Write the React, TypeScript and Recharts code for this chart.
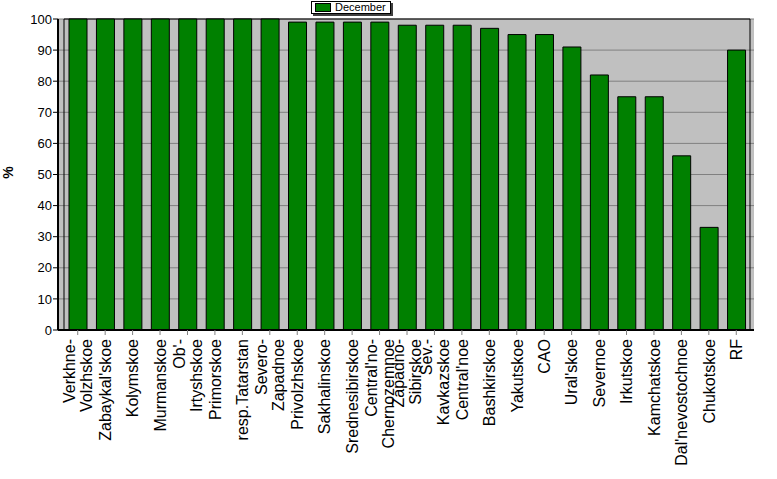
import React from 'react';
import {
  BarChart,
  Bar,
  XAxis,
  YAxis,
  CartesianGrid,
  Legend,
  ReferenceArea,
} from 'recharts';

// "\n" marks where the original label wraps onto a second line
const regions = [
  'Verkhne-\nVolzhskoe',
  "Zabaykal'skoe",
  'Kolymskoe',
  'Murmanskoe',
  "Ob'-\nIrtyshskoe",
  'Primorskoe',
  'resp.Tatarstan',
  'Severo-\nZapadnoe',
  'Privolzhskoe',
  'Sakhalinskoe',
  'Srednesibirskoe',
  "Central'no-\nChernozemnoe",
  'Zapadno-\nSibirskoe',
  'Sev.-\nKavkazskoe',
  "Central'noe",
  'Bashkirskoe',
  'Yakutskoe',
  'CAO',
  "Ural'skoe",
  'Severnoe',
  'Irkutskoe',
  'Kamchatskoe',
  "Dal'nevostochnoe",
  'Chukotskoe',
  'RF',
];
const december = [
  100, 100, 100, 100, 100, 100, 100, 100, 99, 99, 99, 99, 98, 98, 98, 97, 95,
  95, 91, 82, 75, 75, 56, 33, 90,
];
const yTicks = [0, 10, 20, 30, 40, 50, 60, 70, 80, 90, 100];

const data = regions.map((name, i) => ({ name, December: december[i] }));

const FONT = '"Liberation Sans", Arial, sans-serif';

const RegionTick = (props: any) => {
  const { x, y, payload } = props;
  const lines: string[] = String(payload.value).split('\n');
  const n = lines.length;
  return (
    <g transform={`translate(${x},${y + 2}) rotate(-90)`}>
      {lines.map((line, i) => (
        <text
          key={i}
          x={0}
          y={(i - (n - 1) / 2) * 17}
          dy="0.36em"
          textAnchor="end"
          fontSize={16}
          fontFamily={FONT}
          fill="#000"
        >
          {line}
        </text>
      ))}
    </g>
  );
};

const PercentLabel = (props: any) => {
  const { viewBox } = props;
  const cx = 13;
  const cy = viewBox.y + viewBox.height / 2 - 2;
  return (
    <text
      x={cx}
      y={cy}
      transform={`rotate(-90, ${cx}, ${cy})`}
      textAnchor="middle"
      fontSize={14}
      fontWeight="bold"
      fontFamily={FONT}
      fill="#000"
    >
      %
    </text>
  );
};

const LegendBox = () => (
  <div
    style={{
      display: 'flex',
      alignItems: 'center',
      width: 78,
      height: 11,
      background: '#fff',
      border: '1px solid #000',
      boxShadow: '2px 2px 0 #404040',
      fontFamily: FONT,
      fontSize: 11,
      lineHeight: '11px',
      color: '#000',
    }}
  >
    <span
      style={{
        display: 'inline-block',
        width: 14,
        height: 7,
        background: '#008000',
        border: '1px solid #000',
        marginLeft: 3,
        marginRight: 4,
      }}
    />
    December
  </div>
);

export default function App() {
  return (
    <div style={{ position: 'absolute', left: 0, top: 0, background: '#fff' }}>
      <BarChart
        width={777}
        height={479}
        data={data}
        margin={{ top: 19, right: 23, bottom: 0, left: 0 }}
        barCategoryGap={0}
      >
        <CartesianGrid
          vertical={false}
          stroke="#808080"
          fill="#C0C0C0"
          fillOpacity={1}
        />
        <XAxis
          dataKey="name"
          interval={0}
          height={149}
          padding={{ left: 6, right: 4 }}
          tick={<RegionTick />}
          tickLine={{ stroke: '#808080' }}
          tickSize={5}
          axisLine={{ stroke: '#000', strokeWidth: 2 }}
        />
        <YAxis
          width={58}
          domain={[0, 100]}
          ticks={yTicks}
          interval={0}
          tick={{ fontSize: 13, fill: '#000', fontFamily: FONT }}
          tickLine={{ stroke: '#000' }}
          tickSize={5}
          tickMargin={1}
          axisLine={{ stroke: '#000', strokeWidth: 2 }}
          label={<PercentLabel />}
        />
        <Legend
          layout="horizontal"
          verticalAlign="middle"
          align="center"
          content={<LegendBox />}
          wrapperStyle={{ top: 1, left: 311, width: 82, height: 14 }}
        />
        <Bar
          dataKey="December"
          fill="#008000"
          stroke="#000"
          strokeWidth={1}
          barSize={18}
          isAnimationActive={false}
        />
        <ReferenceArea
          y1={0}
          y2={100}
          fill="none"
          stroke="#000"
          strokeWidth={1}
          ifOverflow="visible"
        />
      </BarChart>
    </div>
  );
}
